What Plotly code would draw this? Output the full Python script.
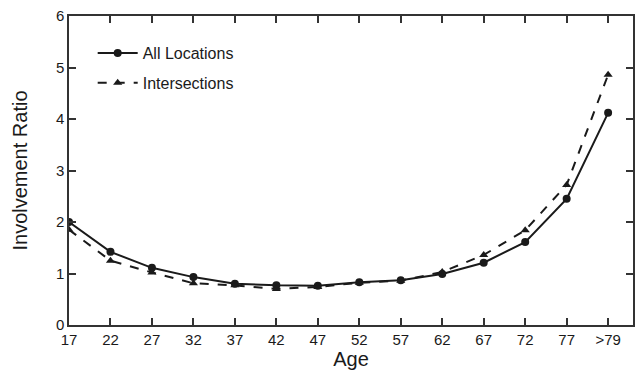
import plotly.graph_objects as go

ages = ["17", "22", "27", "32", "37", "42", "47", "52", "57", "62", "67", "72", "77", ">79"]
all_locations = [2.00, 1.42, 1.11, 0.93, 0.80, 0.77, 0.76, 0.83, 0.87, 0.99, 1.21, 1.61, 2.45, 4.12]
intersections = [1.85, 1.25, 1.02, 0.81, 0.77, 0.70, 0.74, 0.82, 0.86, 1.03, 1.36, 1.84, 2.72, 4.86]
y_ticks = [0, 1, 2, 3, 4, 5, 6]

font_family = "Liberation Sans, Arial, sans-serif"
axis_color = "#333333"

fig = go.Figure()
fig.add_trace(go.Scatter(
    x=ages, y=all_locations, name="All Locations", mode="lines+markers",
    legendgroup="a",
    line=dict(color="#1a1a1a", width=2),
    marker=dict(symbol="circle", size=8, color="#1a1a1a"),
))
fig.add_trace(go.Scatter(
    x=ages, y=intersections, name="Intersections", mode="lines+markers",
    legendgroup="b",
    line=dict(color="#1a1a1a", width=2, dash="dash"),
    marker=dict(symbol="triangle-up", size=8, color="#1a1a1a"),
))

fig.update_layout(
    width=642, height=380,
    margin=dict(l=69, r=7, t=12, b=55),
    paper_bgcolor="white", plot_bgcolor="white",
    font=dict(family=font_family, size=15, color="#1a1a1a"),
    showlegend=True,
    legend=dict(x=0.042, y=0.935, xanchor="left", yanchor="top",
                bgcolor="rgba(0,0,0,0)", font=dict(size=16),
                itemwidth=40, tracegroupgap=6),
    xaxis=dict(
        type="category", categoryorder="array", categoryarray=ages,
        range=[0, 13.6], showgrid=False, zeroline=False,
        showline=True, linecolor=axis_color, linewidth=1.5, mirror="ticks",
        ticks="inside", ticklen=7, tickcolor=axis_color, tickwidth=1.5,
        title=dict(text="Age", font=dict(size=20), standoff=0),
        tickfont=dict(size=15),
    ),
    yaxis=dict(
        range=[0, 6], tickvals=y_ticks, showgrid=False, zeroline=False,
        showline=True, linecolor=axis_color, linewidth=1.5, mirror="ticks",
        ticks="inside", ticklen=7, tickcolor=axis_color, tickwidth=1.5,
        title=dict(text="Involvement Ratio", font=dict(size=20), standoff=23),
        tickfont=dict(size=15),
    ),
)

fig.write_html("out.html")
